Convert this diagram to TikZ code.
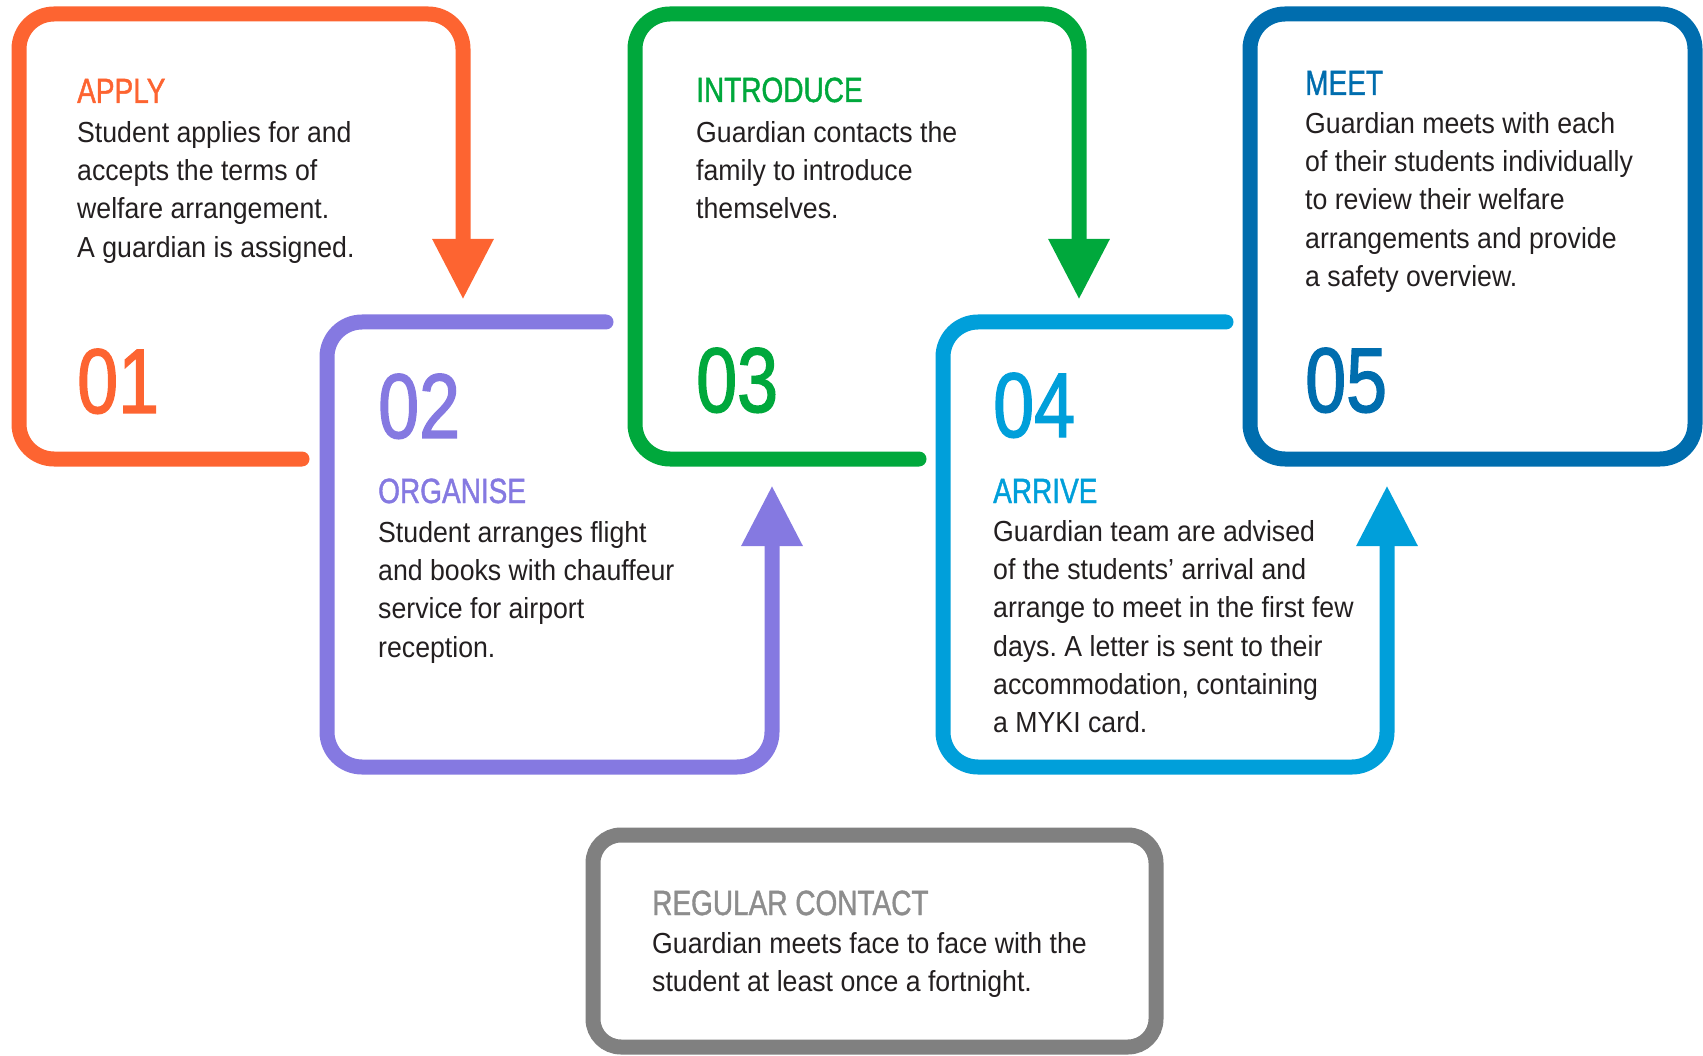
\documentclass[tikz,border=0pt]{standalone}
\usepackage{fontspec}
\setmainfont{Liberation Sans}[FakeStretch=0.92]
\newfontfamily\headfont{Liberation Sans}[FakeStretch=0.8, FakeBold=1.2]
\newfontfamily\numfont{Liberation Sans}[FakeStretch=0.8, FakeBold=1.5]
\usetikzlibrary{arrows.meta}
\definecolor{applyc}{HTML}{FD6431}
\definecolor{orgc}{HTML}{8579E1}
\definecolor{introc}{HTML}{00A83C}
\definecolor{arrivec}{HTML}{009FDA}
\definecolor{meetc}{HTML}{006DAE}
\definecolor{contactc}{HTML}{808080}
\definecolor{inkc}{HTML}{231F20}
\frenchspacing

\begin{document}
\begin{tikzpicture}[x=1pt, y=-1pt,
    frame/.style={line width=15pt, rounded corners=35pt, line cap=round},
    flow/.style={frame, -{Triangle[length=61pt, width=57pt]}},
    title/.style={anchor=base west, inner sep=0pt, font=\headfont\fontsize{35}{38}\selectfont},
    body/.style={anchor=north west, inner sep=0pt, align=left, text=inkc,
                 font=\fontsize{29}{38.3}\selectfont},
    num/.style={anchor=base west, inner sep=0pt, font=\numfont\fontsize{92}{92}\selectfont}]
\useasboundingbox (0,0) rectangle (1703,1056);
%\fill[white] (0,0) rectangle (1703,1056);

% the five steps, each frame runs on into the next one
\draw[flow, applyc]   (302,459)  -- (19,459)  -- (19,14)   -- (463,14)   -- (463,300);
\draw[flow, orgc]     (606,322)  -- (327,322) -- (327,767) -- (772,767)  -- (772,485);
\draw[flow, introc]   (919,459)  -- (635,459) -- (635,14)  -- (1079,14)  -- (1079,300);
\draw[flow, arrivec]  (1226,322) -- (943,322) -- (943,767) -- (1387,767) -- (1387,485);
\draw[frame, meetc]   (1250,14) rectangle (1695,459);
\draw[frame, contactc, rounded corners=28pt] (593,835) rectangle (1156,1047);

% step 1
\node[title, applyc] (h1) at (77,103) {APPLY};
\node[body] (t1) at (77,121) {Student applies for and\\accepts the terms of\\welfare arrangement.\\A guardian is assigned.};
\node[num, applyc] (n1) at (77,413) {01};

% step 2
\node[num, orgc] (n2) at (378,438) {02};
\node[title, orgc] (h2) at (378,503) {ORGANISE};
\node[body] (t2) at (378,521) {Student arranges flight\\and books with chauffeur\\service for airport\\reception.};

% step 3
\node[title, introc] (h3) at (696,102) {INTRODUCE};
\node[body] (t3) at (696,121) {Guardian contacts the\\family to introduce\\themselves.};
\node[num, introc] (n3) at (696,412) {03};

% step 4
\node[num, arrivec] (n4) at (993,437) {04};
\node[title, arrivec] (h4) at (993,503) {ARRIVE};
\node[body] (t4) at (993,520) {Guardian team are advised\\of the students’ arrival and\\arrange to meet in the first few\\days. A letter is sent to their\\accommodation, containing\\a MYKI card.};

% step 5
\node[title, meetc] (h5) at (1305,95) {MEET};
\node[body] (t5) at (1305,112) {Guardian meets with each\\of their students individually\\to review their welfare\\arrangements and provide\\a safety overview.};
\node[num, meetc] (n5) at (1305,412) {05};

% ongoing
\node[title, contactc!90] (h6) at (652,915) {REGULAR CONTACT};
\node[body] (t6) at (652,932) {Guardian meets face to face with the\\student at least once a fortnight.};
\end{tikzpicture}
\end{document}
